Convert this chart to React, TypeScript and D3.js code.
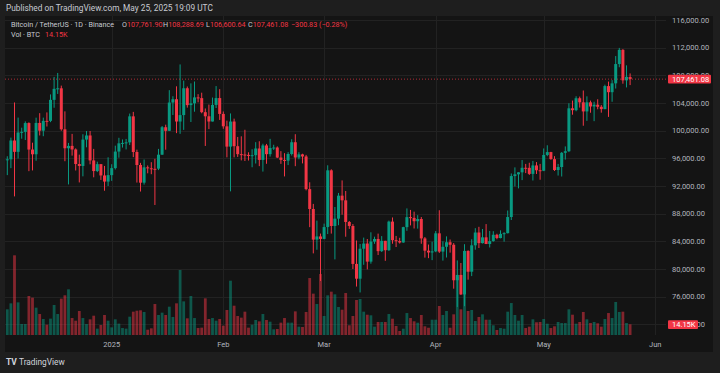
import React from 'react';
import * as d3 from 'd3';

// BTCUSDT 1D, Binance, Dec 3 2024 .. May 25 2025
const firstDay = '2024-12-03';

const opens = [
  95840, 95865, 98587, 96945, 99740, 99831, 101109, 97276, 96593, 101126,
  100004, 101424, 101420, 104464, 106058, 106133, 100204, 97461, 97805, 97292,
  95187, 94900, 98718, 99313, 95705, 94164, 95164, 93530, 92643,
  93576, 94592, 96984, 98174, 98236, 98314, 102078, 96922, 95043, 92485,
  94702, 94567, 94488, 94517, 96534, 100505, 99987, 104078, 104556, 101331,
  102261, 106144, 103706, 103961, 104819, 104714, 102682, 102088, 101333, 103734, 104722,
  102430, 100635, 97700, 101328, 97763, 96613, 96555, 96504, 96444, 96462,
  97431, 95778, 97870, 96609, 97500, 97569, 96118, 95780, 95672, 96632,
  98334, 96126, 96577, 96274, 91552, 88680, 84251, 84708,
  84349, 86065, 94270, 86221, 87281, 90607, 89931, 86801, 86222, 80735,
  78596, 82932, 83681, 81066, 83968, 84343, 82580, 84075, 82719, 86855,
  84167, 84043, 83833, 86055, 87499, 87392, 86910, 87232, 84424, 82649, 82390,
  82550, 85159, 82517, 83214, 83868, 83505, 78368, 79140, 76322, 82615,
  79607, 83424, 85277, 83740, 84580, 83617, 84030, 84948, 84474, 85077,
  85180, 87516, 93442, 93691, 93981, 94638, 94631, 93755, 94978, 94284,
  94207, 96492, 96910, 95892, 94315, 94748, 96802, 97032, 103242, 102971,
  104697, 104107, 102791, 104103, 103508, 103763, 103463, 103126, 106454, 105573,
  106850, 109643, 111696, 107287, 107761.9,
];

const highs = [
  96305, 99000, 104088, 101898, 100439, 101351, 101215, 98270, 101888, 102540,
  101895, 102650, 105250, 107780, 108353, 106524, 102800, 98233, 99540, 97448,
  96539, 99487, 99960, 99963, 97370, 95525, 95174, 94903, 96150,
  95151, 97839, 98976, 98734, 98813, 102482, 102724, 97259, 95350, 95837,
  94977, 95450, 95940, 97371, 100681, 100873, 105865, 104988, 106422, 109588,
  107240, 106394, 106850, 107120, 105286, 105500, 103220, 103783, 104800, 106457, 106012,
  102783, 101456, 102500, 101744, 99100, 99189, 100137, 96880, 97324, 98345,
  98478, 98119, 98090, 98826, 97972, 97732, 97046, 96753, 96899, 98767,
  99497, 96890, 96671, 96503, 92541, 89414, 87000, 85121,
  86558, 95000, 94416, 88967, 91000, 92811, 91283, 86941, 86500, 84123,
  83617, 84540, 84338, 85309, 84673, 85117, 84757, 84075, 87000, 87454,
  84783, 84513, 86106, 88765, 88543, 88292, 87786, 87515, 84624, 83535, 83943,
  85487, 88500, 83998, 84720, 84266, 83750, 81243, 80867, 83588, 82700,
  84300, 85905, 86100, 85785, 86495, 85500, 85470, 85093, 85594, 85320,
  88460, 93817, 94696, 94000, 95758, 95199, 95369, 95630, 95462, 95200,
  97437, 97895, 96943, 96318, 95199, 96920, 97732, 103971, 104361, 104984,
  104937, 105819, 104976, 104356, 104193, 104550, 103709, 106660, 107108, 107320,
  110797, 111980, 111800, 109454, 108288.69,
];

const lows = [
  93578, 94587, 90500, 95981, 98844, 98657, 94150, 94256, 95658, 99311,
  99205, 100610, 101237, 103322, 105321, 100000, 95587, 92232, 96398, 94250,
  92520, 93400, 97600, 95137, 93262, 94015, 92881, 91317, 92000,
  92744, 94392, 96100, 97562, 97291, 97926, 96181, 92500, 91203, 92207,
  93840, 93712, 89256, 94305, 96500, 97256, 99950, 102278, 99651, 99550,
  100119, 103339, 101263, 102750, 104106, 102520, 97795, 100233, 101329, 103285, 101560,
  100279, 96150, 91231, 96150, 96209, 95708, 95620, 95689, 94713, 95256,
  94876, 94088, 95217, 96253, 97224, 96041, 95205, 93389, 95030, 96414,
  94871, 95873, 95270, 91373, 86050, 82257, 82787, 78259,
  84296, 85050, 85118, 81390, 86334, 87853, 84667, 85800, 80000, 77459,
  76606, 80607, 79939, 80766, 83639, 82017, 82457, 81179, 82605, 83655,
  83175, 83674, 83791, 85523, 86303, 85858, 85837, 83646, 81645, 81565, 81279,
  82432, 82320, 81211, 81659, 82365, 77153, 74508, 76239, 74620, 78456,
  78972, 82792, 83034, 83690, 83600, 83111, 83950, 84302, 84431, 83949,
  85143, 87084, 91935, 91660, 92855, 93870, 93602, 92800, 93742, 92910,
  94153, 96318, 95800, 94173, 93514, 93377, 95820, 96910, 102316, 102818,
  103347, 100719, 101430, 102602, 101383, 103100, 102612, 103105, 102000, 104184,
  106096, 109177, 106800, 106262, 106600.64,
];

const closes = [
  95865, 98587, 96945, 99740, 99831, 101109, 97276, 96593, 101125, 100004,
  101424, 101420, 104463, 106058, 106133, 100204, 97461, 97805, 97291, 95186,
  94900, 98718, 99313, 95705, 94165, 95164, 93530, 92643, 93576,
  94591, 96984, 98174, 98236, 98314, 102078, 96922, 95043, 92484, 94701,
  94567, 94488, 94470, 96534, 100505, 99987, 104077, 104556, 101331, 102260,
  106144, 103706, 103960, 104819, 104714, 102682, 102087, 101332, 103733, 104722, 102429,
  100635, 97700, 101328, 97763, 96612, 96555, 96504, 96444, 96462, 97430,
  95778, 97870, 96609, 97500, 97569, 96118, 95780, 95672, 96632, 98334,
  96126, 96577, 96274, 91552, 88680, 84250, 84709, 84349,
  86064, 94270, 86220, 87281, 90606, 89931, 86801, 86222, 80734, 78595,
  82932, 83680, 81066, 83969, 84343, 82579, 84075, 82719, 86855, 84167,
  84043, 83833, 86055, 87499, 87392, 86909, 87232, 84424, 82648, 82389, 82550,
  85159, 82516, 83213, 83868, 83505, 78368, 79140, 76322, 82615, 79607,
  83424, 85277, 83740, 84580, 83617, 84030, 84948, 84474, 85077, 85180,
  87516, 93442, 93692, 93981, 94638, 94631, 93755, 94978, 94284, 94207,
  96492, 96910, 95892, 94315, 94748, 96802, 97032, 103241, 102971, 104697,
  104107, 102791, 104103, 103507, 103763, 103464, 103126, 106454, 105573, 106850,
  109643, 111696, 107287, 107791, 107461.08,
];

// volume, thousands of BTC
const volumes = [
  33.9, 41.8, 105.2, 43.1, 14.5, 14.5, 51.5, 49.3, 36.1, 27.7,
  21.1, 13.6, 21.6, 39.6, 27.7, 48.0, 52.4, 60.3, 22.4, 18.9,
  31.7, 22.4, 14.5, 20.7, 25.5, 8.4, 13.2, 26.4, 18.9, 10.1,
  20.7, 15.0, 9.2, 8.4, 24.2, 30.8, 32.1, 32.6, 30.4, 7.0,
  8.8, 40.9, 26.4, 29.5, 26.4, 37.4, 23.8, 41.8, 85.8, 44.4,
  22.0, 51.5, 22.4, 9.2, 9.7, 48.4, 21.1, 22.4, 18.9, 21.1,
  12.3, 33.0, 71.7, 38.7, 25.1, 22.9, 30.8, 9.7, 13.6, 19.8,
  18.0, 27.7, 19.8, 17.6, 7.5, 7.9, 16.3, 22.4, 16.3, 16.3,
  31.2, 11.0, 10.6, 30.4, 75.2, 54.6, 40.9, 80.5, 25.1, 52.4,
  57.2, 53.7, 37.0, 33.4, 55.4, 12.8, 25.1, 46.2, 47.5, 30.8,
  26.8, 26.0, 11.0, 17.2, 17.2, 17.2, 27.7, 21.5, 11.9, 5.3,
  8.3, 29.0, 22.4, 18.1, 16.2, 26.4, 11.5, 9.6, 20.2, 20.2,
  38.3, 26.4, 31.7, 9.6, 27.3, 76.6, 33.9, 60.7, 31.7, 33.0,
  18.5, 23.8, 27.3, 20.2, 20.2, 12.8, 6.6, 9.2, 8.3, 30.8,
  42.2, 26.4, 18.9, 26.4, 9.2, 11.0, 20.7, 16.8, 17.2, 21.1,
  14.9, 9.2, 11.5, 17.2, 15.8, 15.8, 33.9, 26.8, 14.9, 17.2,
  30.4, 20.7, 15.8, 17.2, 15.4, 11.0, 21.1, 29.0, 22.4, 43.6,
  30.4, 30.8, 15.8, 14.15,
];

const priceTicks = [72000, 76000, 80000, 84000, 88000, 92000, 96000, 100000, 104000, 108000, 112000, 116000];
const monthTicks = ['2025-01-01', '2025-02-01', '2025-03-01', '2025-04-01', '2025-05-01', '2025-06-01'];
const monthLabels = ['2025', 'Feb', 'Mar', 'Apr', 'May', 'Jun'];
const changeLabel = '−300.83 (−0.28%)';

const UP = '#089981';
const DOWN = '#f23645';
const FONT = 'Roboto, "Liberation Sans", sans-serif';

export default function App() {
  const start = new Date(firstDay + 'T00:00:00Z');
  const days = d3.utcDay.range(start, d3.utcDay.offset(start, closes.length));

  const x = d3.scaleUtc()
    .domain([new Date('2025-01-01T00:00:00Z'), new Date('2025-06-01T00:00:00Z')])
    .range([111.7, 655.3]);
  const y = d3.scaleLinear().domain([72000, 116000]).range([324.3, 20.1]);
  const yv = d3.scaleLinear().domain([0, 106]).range([335, 254.7]);

  const fmtPrice = d3.format(',.2f');
  const n = closes.length - 1;
  const last = closes[n];
  const lastVol = volumes[n];

  const left = 5, right = 713, plotRight = 666, top = 16, bottom = 335;

  return (
    <>
      <style>{'body{margin:0;background:#1e1e1e}'}</style>
      <svg width={720} height={373} style={{ display: 'block', fontFamily: FONT }}>
        <defs>
          <clipPath id="plot">
            <rect x={left} y={top} width={plotRight - left} height={bottom - top} />
          </clipPath>
        </defs>
        <rect width={720} height={373} fill="#1e1e1e" />
        <text x={6} y={11} fontSize={8.3} fill="#c8cbd2">
          Published on TradingView.com, May 25, 2025 19:09 UTC
        </text>

        <rect x={left} y={top} width={right - left} height={352 - top} fill="#141414" />

        {priceTicks.map((p) => (
          <line key={p} x1={left} x2={plotRight} y1={Math.round(y(p)) + 0.5} y2={Math.round(y(p)) + 0.5}
            stroke="#222" />
        ))}
        {monthTicks.map((m) => {
          const xx = Math.round(x(new Date(m + 'T00:00:00Z'))) + 0.5;
          return <line key={m} x1={xx} x2={xx} y1={top} y2={bottom} stroke="#222" />;
        })}

        <g clipPath="url(#plot)">
          {days.map((d, i) => {
            const up = closes[i] >= opens[i];
            const cx = x(d);
            return (
              <rect key={'v' + i} x={cx - 1.4} width={2.8} y={yv(volumes[i])} height={bottom - yv(volumes[i])}
                fill={up ? UP : DOWN} fillOpacity={0.5} />
            );
          })}
          {days.map((d, i) => {
            const up = closes[i] >= opens[i];
            const c = up ? UP : DOWN;
            const cx = x(d);
            const y0 = y(Math.max(opens[i], closes[i]));
            const y1 = y(Math.min(opens[i], closes[i]));
            return (
              <g key={'c' + i}>
                <line x1={cx} x2={cx} y1={y(highs[i])} y2={y(lows[i])} stroke={c} strokeWidth={1} />
                <rect x={cx - 1.5} width={3} y={y0} height={Math.max(1, y1 - y0)} fill={c} />
              </g>
            );
          })}
        </g>

        <line x1={left} x2={668} y1={y(last)} y2={y(last)} stroke={DOWN} strokeOpacity={0.7}
          strokeDasharray="1 2" />

        {/* legend */}
        <g fontSize={7.2} fill="#c8cbd2">
          <text x={11} y={27}>Bitcoin / TetherUS · 1D · Binance</text>
          <text x={122} y={27}>O<tspan fill={DOWN}>{fmtPrice(opens[n])}</tspan></text>
          <text x={163} y={27}>H<tspan fill={DOWN}>{fmtPrice(highs[n])}</tspan></text>
          <text x={206} y={27}>L<tspan fill={DOWN}>{fmtPrice(lows[n])}</tspan></text>
          <text x={248} y={27}>C<tspan fill={DOWN}>{fmtPrice(last)}</tspan></text>
          <text x={291} y={27} fill={DOWN}>{changeLabel}</text>
          <text x={11} y={37}>Vol · BTC</text>
          <text x={45} y={37} fill={DOWN}>{lastVol.toFixed(2)}K</text>
        </g>

        {/* price axis */}
        <g fontSize={7.5} fill="#b2b5be">
          {priceTicks.map((p) => (
            <text key={p} x={672} y={y(p) + 2.7}>{fmtPrice(p)}</text>
          ))}
        </g>
        <rect x={668} y={y(last) - 4.3} width={43} height={8.6} fill={DOWN} rx={1} />
        <text x={672} y={y(last) + 2.7} fontSize={7.5} fill="#fff">{fmtPrice(last)}</text>
        <rect x={668} y={yv(lastVol) - 4} width={30} height={8.6} fill={DOWN} rx={1} />
        <text x={672} y={yv(lastVol) + 3} fontSize={7.5} fill="#fff">{lastVol.toFixed(2)}K</text>

        {/* time axis */}
        <g fontSize={7.5} fill="#b2b5be" textAnchor="middle">
          {monthTicks.map((m, i) => (
            <text key={m} x={x(new Date(m + 'T00:00:00Z'))} y={347}>{monthLabels[i]}</text>
          ))}
        </g>

        <rect x={0} y={352} width={720} height={21} fill="#1e1e1e" />
        <text x={6} y={365} fontSize={8.5} fontWeight="bold" fill="#d1d4dc">TV</text>
        <text x={19} y={365} fontSize={8.3} fill="#d1d4dc">TradingView</text>
      </svg>
    </>
  );
}
